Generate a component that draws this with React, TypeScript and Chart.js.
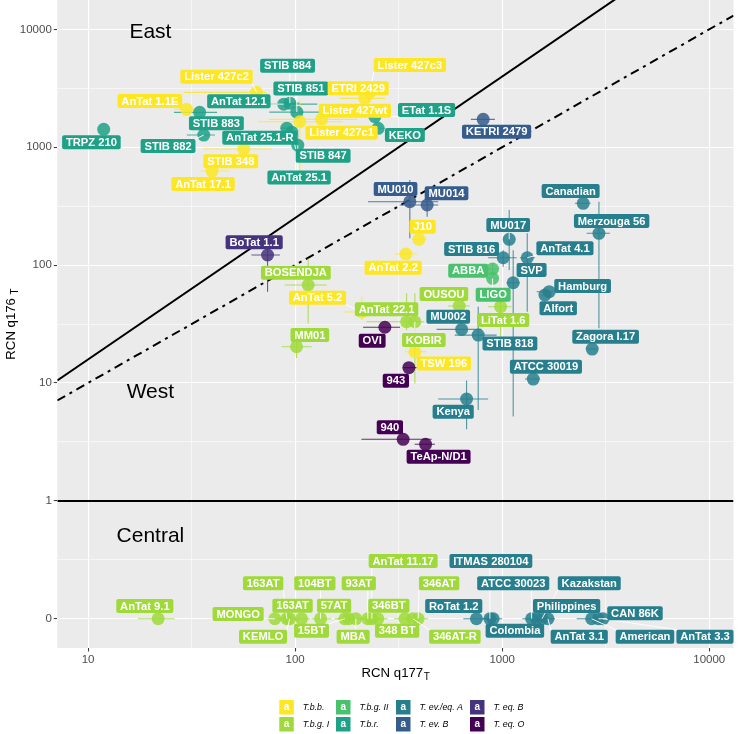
import React, { useEffect, useRef } from "react";
import { Chart, registerables } from "chart.js";
Chart.register(...registerables);

// ---------- data ----------
const groups = ["T.b.b.", "T.b.g. I", "T.b.g. II", "T.b.r.", "T. ev./eq. A", "T. ev. B", "T. eq. B", "T. eq. O"];
const groupColors = ["#FDE725", "#9FDA3A", "#4AC16D", "#1FA187", "#277F8E", "#365C8D", "#46337E", "#440154"];

const strains = [
  "TRPZ 210", "AnTat 1.1E", "STIB 883", "Lister 427c2", "STIB 882", "STIB 348", "AnTat 17.1", "AnTat 12.1",
  "STIB 884", "STIB 851", "AnTat 25.1-R", "STIB 847", "AnTat 25.1", "Lister 427c1", "Lister 427wt", "ETRI 2429",
  "Lister 427c3", "ETat 1.1S", "KEKO", "KETRI 2479", "MU010", "MU014", "J10", "AnTat 2.2",
  "BoTat 1.1", "BOSENDJA", "AnTat 5.2", "AnTat 22.1", "KOBIR", "OUSOU", "MM01", "OVI",
  "TSW 196", "943", "940", "TeAp-N/D1", "Canadian", "Merzouga 56", "MU017", "STIB 816",
  "AnTat 4.1", "ABBA", "LIGO", "SVP", "Hamburg", "Alfort", "LiTat 1.6", "MU002",
  "STIB 818", "Zagora I.17", "ATCC 30019", "Kenya", "AnTat 9.1", "MONGO", "163AT", "KEMLO",
  "163AT", "104BT", "15BT", "57AT", "MBA", "93AT", "AnTat 11.17", "346BT",
  "348 BT", "346AT-R", "346AT", "RoTat 1.2", "ITMAS 280104", "Colombia", "ATCC 30023", "Philippines",
  "Kazakstan", "AnTat 3.1", "American", "CAN 86K", "AnTat 3.3",
];
const strainGroup = [
  3, 0, 3, 0, 3, 0, 0, 3,
  3, 3, 3, 3, 3, 0, 0, 0,
  0, 3, 3, 5, 5, 5, 0, 0,
  6, 1, 0, 1, 1, 1, 1, 7,
  0, 7, 7, 7, 4, 4, 4, 4,
  4, 2, 2, 4, 4, 4, 1, 4,
  4, 4, 4, 4, 1, 1, 1, 1,
  1, 1, 1, 1, 1, 1, 1, 1,
  1, 1, 1, 4, 4, 4, 4, 4,
  4, 4, 4, 4, 4,
];
const rcnQ177 = [
  11.9, 29.9, 34.6, 65.1, 36.2, 56.5, 39.7, 88.2,
  94.3, 101.9, 91.2, 96.4, 103, 105.4, 134.2, 217.2,
  229.6, 242.7, 251.8, 809.4, 358.1, 434.1, 395.9, 342.6,
  73.6, 115.6, 210, 345.3, 378.6, 620, 101.6, 271.3,
  378.6, 354.2, 332.5, 426.6, 2462, 2932, 1081, 1011,
  1321, 898.6, 898.6, 1130, 1687, 1608, 982.4, 636.9,
  765.8, 2721, 1412, 673, 21.8, 79.8, 91.2, 94.2,
  107.4, 132.7, 173.8, 181.7, 196.4, 224.4, 234.7, 250.9,
  338.8, 370.4, 392.7, 751, 872, 904.6, 1387, 1466,
  1556, 1663, 2704, 2911, 3066,
];
const rcnQ176 = [
  1418, 2097, 1977, 2922, 1269, 965, 628, 2321,
  2366, 1985, 1452, 1343, 1042, 1645, 1724, 2599,
  2939, 1814, 1447, 1724, 345.1, 323.5, 165.5, 124.2,
  121.8, 67.8, 40, 33.1, 33.1, 45, 20.3, 29.7,
  18.4, 13.5, 3.33, 3.02, 334.4, 186.1, 165.5, 115.5,
  115.5, 92.7, 77.3, 70.9, 59.5, 55.8, 44.4, 28.5,
  25.5, 19.4, 10.8, 7.32, 0, 0, 0, 0,
  0, 0, 0, 0, 0, 0, 0, 0,
  0, 0, 0, 0, 0, 0, 0, 0,
  0, 0, 0, 0, 0,
];
const q177Low = [
  null, 26, 26, 29, 30, 36, 35, 53,
  85, 75, 85, 92, null, 66, 75, 164,
  200, 225, 235, 706, 225, 320, 365, 303,
  61.5, 89, 171, 221, 350, 548, 86, 213,
  339, 331, 209, 378, 2244, 2557, null, 855,
  1218, 850, 850, 1050, 1467, 1550, 855, 482,
  590, 2550, 1288, 491, 17.4, 72, 82, 85,
  97, 120, 155, 160, 180, 200, 210, 225,
  300, 335, 350, 649, 800, 820, 1250, 1300,
  1400, 1500, 2290, 2600, 2800,
];
const q177High = [
  null, 34, 42, 73, 41, 77, 48, 128,
  105, 142, 98, 102, null, 170, 200, 272,
  262, 262, 270, 922, 491, 491, 431, 387,
  84.4, 142, 230, 398, 420, 698, 120, 321,
  431, 386, 456, 473, 2673, 3311, null, 1175,
  1439, 950, 950, 1218, 1762, 1700, 1109, 794,
  940, 2900, 1521, 855, 26.2, 90, 100, 105,
  118, 150, 195, 205, 215, 250, 260, 280,
  380, 410, 440, 900, 950, 1000, 1550, 1650,
  1750, 1800, 3100, 3300, 3400,
];
const q176Low = [
  null, null, null, null, null, null, null, null,
  null, null, null, null, 850, 630, null, null,
  null, null, null, null, 169, 257, null, null,
  59.5, 32, 34.2, 28, 9.9, null, 16.3, null,
  null, null, null, null, null, 29.1, 90.9, 96.8,
  40.3, 67.8, null, 5.2, null, null, 24.7, null,
  5.9, null, null, 4.05, null, null, null, null,
  null, null, null, null, null, null, null, null,
  null, null, null, null, null, null, null, null,
  null, null, null, null, null,
];
const q176High = [
  null, null, null, null, null, null, null, null,
  null, null, null, null, 1300, 2500, null, null,
  null, null, null, null, 527, 356, null, null,
  160, 114, 54, 57.7, 57.7, null, 24.1, null,
  null, null, null, null, null, 345, 293, 134,
  186, 104, null, 134, null, null, 50, null,
  44.4, null, null, 10.5, null, null, null, null,
  null, null, null, null, null, null, null, null,
  null, null, null, null, null, null, null, null,
  null, null, null, null, null,
];

// repelled label nudges (pixels, relative to the point)
const labelDx = [
  -12.3, -36.7, 16.7, -40, -35.7, -13, -9, -45,
  -2.3, 4, -27, 31.3, 1.3, 41.7, 33.3, -6.7,
  40, 51.7, 26.7, 13.4, -14.3, 19.4, 3.7, -12.7,
  -13.4, -12.3, -44.3, -20, 9, -15.3, 13.3, -12.7,
  29, -13, -13.3, 13, -12.6, 12.7, -1, -31.6,
  37.7, -24.4, 0.6, 18.4, 33.4, 13.3, 2.6, -13.4,
  31.7, 13.4, 12.7, -13.4, -13.3, -36.7, -23.7, -26.7,
  -9, -5.7, -33.3, -14.7, -2.7, -9, 31.3, 11,
  -7.7, 42, 21, -22.7, 1, 21.7, -18.4, 30,
  47.3, 31.3, 53.3, 36.7, 102,
];
const labelDy = [
  13, -8.3, 11, -15.6, 11, 12.3, 13, -3,
  -37.3, -23.7, 9.7, 23.7, 32.3, 11, -8.6, -10,
  -27, -6.7, 6.7, 12.4, -12.7, -11.7, -12.6, 13.7,
  -12.7, -12.3, -14.3, -12.4, 18.3, -12, -11.7, 13.4,
  11.6, 13, -12, 12.4, -12.3, -12.3, -14.3, -8.7,
  -9.4, 1.7, 16.4, -12.7, -5.7, 13.3, 13.3, -12.6,
  8.3, -12.3, -12.3, 12.7, -12.8, -4.8, -35.5, 17.9,
  -13.1, -35.5, 11.9, -13.1, 17.9, -35.5, -57.8, -13.1,
  11.9, 17.9, -35.5, -12.8, -57.8, 11.9, -35.5, -12.8,
  -35.5, 17.9, 17.9, -5.5, 17.9,
];

const xTickValues = [10, 100, 1000, 10000];
const yTickValues = [0, 1, 10, 100, 1000, 10000];
const regionNames = ["East", "West", "Central"];
const regionX = [20, 20, 20];
const regionY = [9500, 8.3, 0.5];
// reference lines: log10(y) = slope * log10(x)
const refSlopes = [1.2, 1];
const refDash = [[], [9, 5, 3, 5]];
const boundaryY = 1;

// ---------- helpers ----------
const tx = (v: number) => Math.log10(v);
const ty = (v: number) => (v > 0 ? Math.log10(v) : -1);
const X_MIN = 0.8515, X_MAX = 4.117, Y_MIN = -1.248, Y_MAX = 4.249;
const FONT = '"Liberation Sans", Arial, Helvetica, sans-serif';
const isMajor = (v: number) => Math.abs(v - Math.round(v)) < 1e-6;

function rgba(hex: string, a: number) {
  const n = parseInt(hex.slice(1), 16);
  return `rgba(${(n >> 16) & 255},${(n >> 8) & 255},${n & 255},${a})`;
}

function roundRect(ctx: CanvasRenderingContext2D, x: number, y: number, w: number, h: number, r: number) {
  ctx.beginPath();
  ctx.moveTo(x + r, y);
  ctx.lineTo(x + w - r, y);
  ctx.quadraticCurveTo(x + w, y, x + w, y + r);
  ctx.lineTo(x + w, y + h - r);
  ctx.quadraticCurveTo(x + w, y + h, x + w - r, y + h);
  ctx.lineTo(x + r, y + h);
  ctx.quadraticCurveTo(x, y + h, x, y + h - r);
  ctx.lineTo(x, y + r);
  ctx.quadraticCurveTo(x, y, x + r, y);
  ctx.closePath();
}

const decor = {
  id: "decor",
  beforeDraw(chart: any) {
    const { ctx, chartArea: a } = chart;
    ctx.save();
    ctx.fillStyle = "#FFFFFF";
    ctx.fillRect(0, 0, chart.width, chart.height);
    ctx.fillStyle = "#EBEBEB";
    ctx.fillRect(a.left, a.top, a.right - a.left, a.bottom - a.top);
    ctx.restore();
  },
  beforeDatasetsDraw(chart: any) {
    const { ctx, chartArea: a } = chart;
    const xs = chart.scales.x, ys = chart.scales.y;
    ctx.save();
    ctx.beginPath();
    ctx.rect(a.left, a.top, a.right - a.left, a.bottom - a.top);
    ctx.clip();
    // reference lines
    ctx.strokeStyle = "#000000";
    ctx.lineWidth = 2;
    refSlopes.forEach((s, i) => {
      ctx.setLineDash(refDash[i]);
      ctx.beginPath();
      ctx.moveTo(xs.getPixelForValue(X_MIN), ys.getPixelForValue(s * X_MIN));
      ctx.lineTo(xs.getPixelForValue(X_MAX), ys.getPixelForValue(s * X_MAX));
      ctx.stroke();
    });
    ctx.setLineDash([]);
    const hy = ys.getPixelForValue(ty(boundaryY));
    ctx.beginPath();
    ctx.moveTo(a.left, hy);
    ctx.lineTo(a.right, hy);
    ctx.stroke();
    // error bars
    ctx.lineWidth = 1.1;
    strains.forEach((_, i) => {
      ctx.strokeStyle = rgba(groupColors[strainGroup[i]], 0.8);
      const px = xs.getPixelForValue(tx(rcnQ177[i]));
      const py = ys.getPixelForValue(ty(rcnQ176[i]));
      const xl = q177Low[i], xh = q177High[i], yl = q176Low[i], yh = q176High[i];
      if (xl != null && xh != null) {
        ctx.beginPath();
        ctx.moveTo(xs.getPixelForValue(tx(xl)), py);
        ctx.lineTo(xs.getPixelForValue(tx(xh)), py);
        ctx.stroke();
      }
      if (yl != null && yh != null) {
        ctx.beginPath();
        ctx.moveTo(px, ys.getPixelForValue(ty(yl)));
        ctx.lineTo(px, ys.getPixelForValue(ty(yh)));
        ctx.stroke();
      }
    });
    ctx.restore();
  },
  afterDatasetsDraw(chart: any) {
    const { ctx } = chart;
    const xs = chart.scales.x, ys = chart.scales.y;
    ctx.save();
    // region annotations
    ctx.fillStyle = "#000000";
    ctx.font = `21px ${FONT}`;
    ctx.textAlign = "center";
    ctx.textBaseline = "middle";
    regionNames.forEach((n, i) => {
      ctx.fillText(n, xs.getPixelForValue(tx(regionX[i])), ys.getPixelForValue(ty(regionY[i])));
    });
    // labels
    ctx.font = `bold 11.2px ${FONT}`;
    const H = 14;
    strains.forEach((name, i) => {
      const px = xs.getPixelForValue(tx(rcnQ177[i]));
      const py = ys.getPixelForValue(ty(rcnQ176[i]));
      const cx = px + labelDx[i], cy = py + labelDy[i];
      const w = ctx.measureText(name).width + 7.6;
      const l = cx - w / 2, t = cy - H / 2;
      const nx = Math.min(Math.max(px, l), l + w), ny = Math.min(Math.max(py, t), t + H);
      const d = Math.hypot(nx - px, ny - py);
      if (d > 7) {
        ctx.strokeStyle = "#FFFFFF";
        ctx.lineWidth = 0.9;
        ctx.beginPath();
        ctx.moveTo(px, py);
        ctx.lineTo(nx, ny);
        ctx.stroke();
      }
    });
    strains.forEach((name, i) => {
      const px = xs.getPixelForValue(tx(rcnQ177[i]));
      const py = ys.getPixelForValue(ty(rcnQ176[i]));
      const cx = px + labelDx[i], cy = py + labelDy[i];
      const w = ctx.measureText(name).width + 7.6;
      ctx.fillStyle = groupColors[strainGroup[i]];
      roundRect(ctx, cx - w / 2, cy - H / 2, w, H, 2);
      ctx.fill();
      ctx.fillStyle = "#FFFFFF";
      ctx.fillText(name, cx, cy + 0.5);
    });
    ctx.restore();
  },
  afterDraw(chart: any) {
    const { ctx, chartArea: a } = chart;
    ctx.save();
    ctx.fillStyle = "#000000";
    ctx.textBaseline = "middle";
    // x title
    const mainF = `13.2px ${FONT}`, subF = `10px ${FONT}`;
    ctx.font = mainF;
    const xt = "RCN q177";
    const w1 = ctx.measureText(xt).width;
    ctx.font = subF;
    const w2 = ctx.measureText("T").width;
    const cx = (a.left + a.right) / 2;
    let x0 = cx - (w1 + w2) / 2;
    ctx.textAlign = "left";
    ctx.font = mainF;
    ctx.fillText(xt, x0, 673);
    ctx.font = subF;
    ctx.fillText("T", x0 + w1 + 0.5, 677.5);
    // y title
    ctx.save();
    ctx.translate(11, (a.top + a.bottom) / 2);
    ctx.rotate(-Math.PI / 2);
    ctx.font = mainF;
    const yt = "RCN q176 ";
    const v1 = ctx.measureText(yt).width;
    x0 = -(v1 + w2) / 2;
    ctx.fillText(yt, x0, 0);
    ctx.font = subF;
    ctx.fillText("T", x0 + v1, 4.5);
    ctx.restore();
    // legend
    const colX = [279.3, 336, 396, 470];
    const rowY = [700, 717];
    const K = 14.5;
    groups.forEach((g, gi) => {
      const col = Math.floor(gi / 2), row = gi % 2;
      const kx = colX[col], ky = rowY[row];
      ctx.fillStyle = groupColors[gi];
      ctx.fillRect(kx, ky, K, K);
      ctx.fillStyle = "#FFFFFF";
      ctx.font = `bold 10px ${FONT}`;
      ctx.textAlign = "center";
      ctx.fillText("a", kx + K / 2, ky + K / 2);
      ctx.fillStyle = "#000000";
      ctx.font = `italic 8.8px ${FONT}`;
      ctx.textAlign = "left";
      ctx.fillText(g, kx + 23.4, ky + K / 2);
    });
    ctx.restore();
  },
};

export default function App() {
  const ref = useRef<HTMLCanvasElement>(null);
  useEffect(() => {
    document.body.style.margin = "0";
    const canvas = ref.current!;
    const datasets = groups.map((g, gi) => ({
      label: g,
      data: strains
        .map((_, i) => i)
        .filter((i) => strainGroup[i] === gi)
        .map((i) => ({ x: tx(rcnQ177[i]), y: ty(rcnQ176[i]) })),
      backgroundColor: rgba(groupColors[gi], 0.85),
      borderWidth: 0,
      pointRadius: 6.5,
      pointHoverRadius: 6.5,
    }));
    const tickFont = { family: FONT, size: 11.5 };
    const gridOpts = {
      color: "#FFFFFF",
      lineWidth: (c: any) => (c.tick && isMajor(c.tick.value) ? 1.1 : 0.55),
      tickColor: (c: any) => (c.tick && isMajor(c.tick.value) ? "#333333" : "rgba(0,0,0,0)"),
      tickLength: 3.5,
      tickWidth: 1,
    };
    const zeroPad = (s: any) => {
      s.paddingTop = 0; s.paddingBottom = 0; s.paddingLeft = 0; s.paddingRight = 0;
    };
    const xGrid: number[] = [];
    for (let v = 1; v <= 4.001; v += 0.5) xGrid.push(v);
    const yGrid: number[] = [];
    for (let v = -1; v <= 4.001; v += 0.5) yGrid.push(v);
    const chart = new Chart(canvas, {
      type: "scatter",
      data: { datasets },
      options: {
        animation: false,
        responsive: false,
        devicePixelRatio: 1,
        layout: { autoPadding: false, padding: { top: 0, right: 5.5, bottom: 0, left: 0 } },
        plugins: { legend: { display: false }, tooltip: { enabled: false } },
        scales: {
          x: {
            type: "linear",
            min: X_MIN,
            max: X_MAX,
            afterBuildTicks: (s: any) => {
              s.ticks = xGrid.map((v) => ({ value: v }));
            },
            afterFit: (s: any) => {
              s.height = 86;
              zeroPad(s);
            },
            ticks: {
              autoSkip: false,
              maxRotation: 0,
              padding: 1.5,
              color: "#4D4D4D",
              font: tickFont,
              callback: (v: any) => {
                if (!isMajor(v)) return "";
                const val = Math.pow(10, Math.round(v));
                return xTickValues.includes(val) ? String(val) : "";
              },
            },
            grid: gridOpts,
            border: { display: false },
          },
          y: {
            type: "linear",
            min: Y_MIN,
            max: Y_MAX,
            afterBuildTicks: (s: any) => {
              s.ticks = yGrid.map((v) => ({ value: v }));
            },
            afterFit: (s: any) => {
              s.width = 57.3;
              zeroPad(s);
            },
            ticks: {
              autoSkip: false,
              padding: 2,
              color: "#4D4D4D",
              font: tickFont,
              callback: (v: any) => {
                if (!isMajor(v)) return "";
                const k = Math.round(v);
                const val = k < 0 ? 0 : Math.pow(10, k);
                return yTickValues.includes(val) ? String(val) : "";
              },
            },
            grid: gridOpts,
            border: { display: false },
          },
        },
      },
      plugins: [decor],
    } as any);
    return () => chart.destroy();
  }, []);
  return (
    <div style={{ width: 739, height: 734 }}>
      <canvas ref={ref} width={739} height={734} style={{ display: "block" }} />
    </div>
  );
}
